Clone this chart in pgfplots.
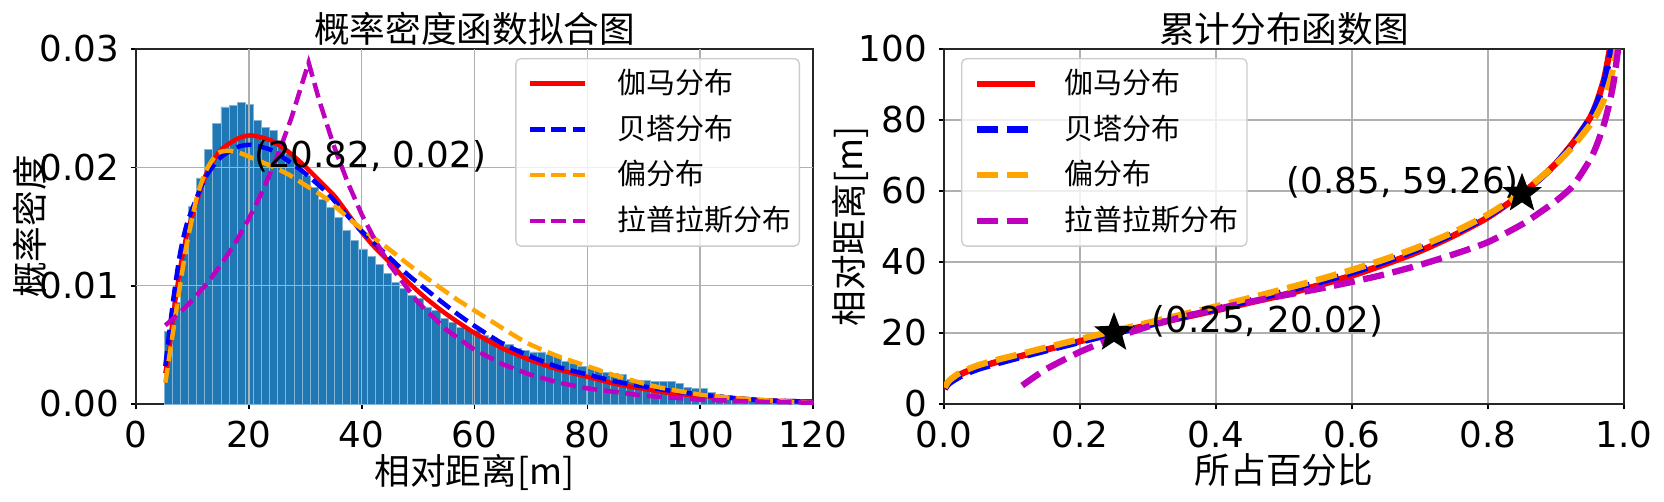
\documentclass[border=0pt]{standalone}
\usepackage{pgfplots}
\pgfplotsset{compat=1.18}
\usepackage{fontspec}
\setmainfont{DejaVu Sans}
\newfontfamily\cjk{Noto Sans CJK SC}
\definecolor{histblue}{HTML}{1F77B4}
\definecolor{mplorange}{HTML}{FFA500}
\definecolor{mplmag}{HTML}{BF00BF}
\definecolor{gridgray}{HTML}{B0B0B0}
\pgfdeclareplotmark{fstar}{%
  \pgfpathmoveto{\pgfpointpolar{90}{\pgfplotmarksize}}%
  \pgfpathlineto{\pgfpointpolar{126}{0.42\pgfplotmarksize}}%
  \pgfpathlineto{\pgfpointpolar{162}{\pgfplotmarksize}}%
  \pgfpathlineto{\pgfpointpolar{198}{0.42\pgfplotmarksize}}%
  \pgfpathlineto{\pgfpointpolar{234}{\pgfplotmarksize}}%
  \pgfpathlineto{\pgfpointpolar{270}{0.42\pgfplotmarksize}}%
  \pgfpathlineto{\pgfpointpolar{306}{\pgfplotmarksize}}%
  \pgfpathlineto{\pgfpointpolar{342}{0.42\pgfplotmarksize}}%
  \pgfpathlineto{\pgfpointpolar{18}{\pgfplotmarksize}}%
  \pgfpathlineto{\pgfpointpolar{54}{0.42\pgfplotmarksize}}%
  \pgfpathclose\pgfusepathqfillstroke}
\pgfplotsset{
  base/.style={
    scale only axis,
    height=106.5pt, anchor=south west,
    axis line style={line width=0.5pt, black!85},
    tick align=outside, major tick length=1.6pt,
    tick style={black, line width=0.5pt},
    xtick pos=left, ytick pos=left,
    tick label style={font=\fontsize{10.7}{12}\selectfont},
    xticklabel style={inner sep=1pt, yshift=-2.2pt},
    /pgf/number format/assume math mode=true,
    every axis title shift=0pt,
    title style={font=\cjk\fontsize{10.7}{12}\selectfont, at={(axis description cs:0.5,1)}, anchor=base, yshift=2pt, inner sep=0pt},
    label style={font=\cjk\fontsize{10.7}{12}\selectfont},
    xlabel style={at={(axis description cs:0.5,0)}, anchor=north, yshift=-14.8pt, inner sep=0pt},
    legend cell align=left,
    legend style={draw=black!20, rounded corners=1.5pt, fill=white, fill opacity=0.8, text opacity=1,
      font=\cjk\fontsize{8.7}{10}\selectfont, inner xsep=1pt, inner ysep=1.6pt, row sep=1.9pt,
      nodes={inner sep=1.5pt}},
  },
  leftline/.style={line width=1.35pt},
  rightline/.style={line width=1.9pt},
  ldash/.style={dash pattern=on 4.5pt off 2pt},
  rdash/.style={dash pattern=on 6.4pt off 2.6pt},
  gl/.style={gridgray, line width=0.45pt, forget plot},
}
\begin{document}
\begin{tikzpicture}
\path[use as bounding box] (0,0) rectangle (499.2pt,150.3pt);
\begin{axis}[base, at={(40.8pt,29.1pt)}, width=203.1pt,
  xmin=0, xmax=120, ymin=0, ymax=0.03,
  xtick={0,20,40,60,80,100,120}, ytick={0,0.01,0.02,0.03},
  scaled y ticks=false,
  yticklabel style={/pgf/number format/fixed, /pgf/number format/fixed zerofill, /pgf/number format/precision=2},
  title={概率密度函数拟合图}, xlabel={相对距离[m]}, ylabel={概率密度},
  ylabel style={at={(axis description cs:-0.1566,0.5)}, anchor=center, inner sep=0pt},
  legend style={at={(1,1)}, anchor=north east, xshift=-3.9pt, yshift=-2.7pt},
  legend image code/.code={\draw[#1] (0pt,0pt) -- (16.5pt,0pt); \path (-2.5pt,0pt) (24pt,0pt);},
]
\addplot[ybar interval, fill=histblue, draw=histblue!55!white, line width=0.25pt, forget plot] coordinates {
(5.0000,0.0061) (6.4375,0.0086) (7.8750,0.0127) (9.3125,0.0167) (10.7500,0.0191) (12.1875,0.0215)
(13.6250,0.0237) (15.0625,0.0251) (16.5000,0.0252) (17.9375,0.0255) (19.3750,0.0253) (20.8125,0.0240)
(22.2500,0.0234) (23.6875,0.0231) (25.1250,0.0221) (26.5625,0.0212) (28.0000,0.0203) (29.4375,0.0193)
(30.8750,0.0183) (32.3125,0.0173) (33.7500,0.0166) (35.1875,0.0158) (36.6250,0.0147) (38.0625,0.0138)
(39.5000,0.0131) (40.9375,0.0125) (42.3750,0.0118) (43.8125,0.0110) (45.2500,0.0103) (46.6875,0.0098)
(48.1250,0.0092) (49.5625,0.0089) (51.0000,0.0082) (52.4375,0.0079) (53.8750,0.0072) (55.3125,0.0069)
(56.7500,0.0065) (58.1875,0.0063) (59.6250,0.0062) (61.0625,0.0058) (62.5000,0.0056) (63.9375,0.0053)
(65.3750,0.0050) (66.8125,0.0047) (68.2500,0.0045) (69.6875,0.0044) (71.1250,0.0044) (72.5625,0.0042)
(74.0000,0.0040) (75.4375,0.0036) (76.8750,0.0034) (78.3125,0.0032) (79.7500,0.0031) (81.1875,0.0029)
(82.6250,0.0027) (84.0625,0.0026) (85.5000,0.0025) (86.9375,0.0021) (88.3750,0.0020) (89.8125,0.0020)
(91.2500,0.0019) (92.6875,0.0019) (94.1250,0.0019) (95.5625,0.0017) (97.0000,0.0014) (98.4375,0.0013)
(99.8750,0.0013) (101.3125,0.0010) (102.7500,0.0008) (104.1875,0.0007) (105.6250,0.0006) (107.0625,0.0005)
(108.5000,0.0005) (109.9375,0.0004) (111.3750,0.0004) (112.8125,0.0003) (114.2500,0.0003) (115.6875,0.0003)
(117.1250,0.0002) (118.5625,0.0002) (120.0000,0.0002)
};
\addplot[gl] coordinates {(20,0) (20,0.03)};
\addplot[gl] coordinates {(40,0) (40,0.03)};
\addplot[gl] coordinates {(60,0) (60,0.03)};
\addplot[gl] coordinates {(80,0) (80,0.03)};
\addplot[gl] coordinates {(100,0) (100,0.03)};
\addplot[gl] coordinates {(0,0.01) (120,0.01)};
\addplot[gl] coordinates {(0,0.02) (120,0.02)};
\addplot[leftline, red, smooth, tension=0.4] coordinates {
(5.2,0.0026) (6.0,0.0050) (6.6,0.0075) (7.8,0.0114) (9.0,0.0143) (10.8,0.0172) (12.5,0.0195)
(14.9,0.0214) (17.9,0.0224) (20.3,0.0227) (23.8,0.0223) (26.8,0.0214) (29.7,0.0202) (33.3,0.0185)
(35.5,0.0174) (39.2,0.0150) (42.0,0.0134) (45.1,0.0119) (48.0,0.0104) (51.5,0.0089) (55.0,0.0076)
(60.0,0.0060) (65.0,0.0047) (70.0,0.0037) (75.0,0.0029) (80.0,0.0023) (85.0,0.0017) (91.0,0.0012)
(95.0,0.0009) (100.0,0.0007) (106.0,0.0005) (112.0,0.0003) (120.0,0.0002)
};
\addlegendentry{伽马分布}
\addplot[leftline, blue, ldash, smooth, tension=0.4] coordinates {
(5.2,0.0032) (6.6,0.0088) (7.8,0.0127) (9.0,0.0152) (10.8,0.0175) (12.5,0.0193) (14.9,0.0208)
(17.9,0.0217) (20.3,0.0219) (23.8,0.0215) (26.8,0.0206) (29.7,0.0196) (33.3,0.0181) (35.5,0.0170)
(39.2,0.0150) (42.0,0.0137) (45.1,0.0123) (48.0,0.0110) (51.1,0.0098) (54.0,0.0087) (57.0,0.0076)
(60.0,0.0066) (65.0,0.0051) (70.0,0.0040) (75.0,0.0031) (80.0,0.0025) (85.0,0.0019) (91.0,0.0014)
(95.0,0.0011) (100.0,0.0008) (106.0,0.0005) (112.0,0.0003) (120.0,0.0002)
};
\addlegendentry{贝塔分布}
\addplot[leftline, mplorange, ldash, smooth, tension=0.4] coordinates {
(5.2,0.0018) (6.6,0.0062) (7.8,0.0100) (9.0,0.0135) (10.8,0.0175) (12.5,0.0198) (14.5,0.0212)
(16.5,0.0214) (18.5,0.0212) (21.0,0.0207) (24.0,0.0201) (27.0,0.0194) (30.0,0.0185) (33.3,0.0175)
(36.0,0.0164) (39.2,0.0151) (42.0,0.0141) (45.1,0.0130) (48.0,0.0119) (51.1,0.0108) (54.0,0.0098)
(57.0,0.0088) (60.0,0.0079) (63.0,0.0070) (67.0,0.0058) (70.0,0.0050) (75.0,0.0040) (80.0,0.0032)
(85.0,0.0024) (91.0,0.0016) (95.0,0.0012) (100.0,0.0008) (106.0,0.0005) (112.0,0.0003) (120.0,0.0001)
};
\addlegendentry{偏分布}
\addplot[leftline, mplmag, ldash] coordinates {
(5.2,0.00665) (7.5,0.00759) (10,0.00879) (12.5,0.01014) (15,0.01173) (17.5,0.01353) (20,0.01565)
(22.5,0.01806) (25,0.02088) (27.5,0.02411) (30.6,0.02885) (32.5,0.02562) (35,0.02191) (37.5,0.01875)
(40,0.01603) (42.5,0.01372) (45,0.01173) (50,0.00858) (55,0.00628) (60,0.00459) (65,0.00336)
(70,0.00246) (75,0.00180) (80,0.00132) (90,0.000704) (100,0.000377) (110,0.000202) (120,0.000108)
};
\addlegendentry{拉普拉斯分布}
\node[anchor=base west, inner sep=0pt, font=\fontsize{10.7}{12}\selectfont] at (axis cs:20.82,0.02) {(20.82, 0.02)};
\end{axis}
\begin{axis}[base, at={(283.2pt,29.1pt)}, width=204pt,
  xmin=0, xmax=1, ymin=0, ymax=100,
  grid=major, grid style={gridgray, line width=0.45pt},
  xtick={0,0.2,0.4,0.6,0.8,1}, ytick={0,20,40,60,80,100},
  xticklabel style={/pgf/number format/fixed, /pgf/number format/fixed zerofill, /pgf/number format/precision=1},
  title={累计分布函数图}, xlabel={所占百分比}, ylabel={相对距离[m]},
  ylabel style={at={(axis description cs:-0.1375,0.5)}, anchor=center, inner sep=0pt},
  legend style={at={(0,1)}, anchor=north west, xshift=5.1pt, yshift=-2.7pt},
  legend image code/.code={\draw[#1] (0pt,0pt) -- (17.5pt,0pt); \path (-2.5pt,0pt) (24pt,0pt);},
]
\addplot[rightline, red, smooth, tension=0.4] coordinates {
(0.001,4.2) (0.005,5.6) (0.01,6.6) (0.02,7.9) (0.03,8.9) (0.05,10.3) (0.075,11.7) (0.1,12.9)
(0.15,15.3) (0.2,17.7) (0.25,20.0) (0.3,22.2) (0.35,24.3) (0.4,26.4) (0.45,28.6) (0.5,30.8)
(0.55,33.4) (0.6,36.2) (0.65,39.5) (0.7,43.1) (0.75,47.5) (0.8,52.6) (0.85,59.3) (0.875,63.3)
(0.9,67.8) (0.925,73.6) (0.95,80.6) (0.96,85.0) (0.97,91.0) (0.975,95.5) (0.98,101.0) (0.985,108.0)
};
\addlegendentry{伽马分布}
\addplot[rightline, blue, rdash, smooth, tension=0.4] coordinates {
(0.001,4.4) (0.005,5.4) (0.01,6.2) (0.02,7.4) (0.03,8.4) (0.05,9.9) (0.075,11.3) (0.1,12.6)
(0.15,15.1) (0.2,17.5) (0.25,19.9) (0.3,22.2) (0.35,24.5) (0.4,26.8) (0.45,29.1) (0.5,31.6)
(0.55,34.2) (0.6,37.0) (0.65,40.2) (0.7,43.8) (0.75,48.0) (0.8,53.0) (0.85,59.4) (0.875,63.2)
(0.9,67.7) (0.925,73.2) (0.95,80.5) (0.96,84.5) (0.97,90.0) (0.975,94.0) (0.98,99.0) (0.985,106.0)
};
\addlegendentry{贝塔分布}
\addplot[rightline, mplorange, rdash, smooth, tension=0.4] coordinates {
(0.001,4.6) (0.005,6.0) (0.01,7.0) (0.02,8.4) (0.03,9.4) (0.05,10.9) (0.075,12.3) (0.1,13.5)
(0.15,15.9) (0.2,18.3) (0.25,20.6) (0.3,22.9) (0.35,25.2) (0.4,27.5) (0.45,29.9) (0.5,32.4)
(0.55,35.0) (0.6,37.8) (0.65,40.9) (0.7,44.4) (0.75,48.5) (0.8,53.4) (0.85,59.6) (0.875,63.4)
(0.9,67.6) (0.925,72.6) (0.95,78.6) (0.96,81.6) (0.97,85.5) (0.975,88.3) (0.98,91.5) (0.985,95.5) (0.99,101.0)
};
\addlegendentry{偏分布}
\addplot[rightline, mplmag, rdash, smooth, tension=0.4] coordinates {
(0.115,5.2) (0.15,9.8) (0.2,14.7) (0.25,18.6) (0.3,21.8) (0.35,24.5) (0.4,26.7) (0.45,28.8)
(0.5,30.6) (0.55,32.4) (0.6,34.4) (0.65,36.6) (0.7,39.2) (0.75,42.2) (0.8,45.6) (0.85,50.6)
(0.875,53.8) (0.9,57.2) (0.925,61.5) (0.95,68.8) (0.96,73.0) (0.97,78.5) (0.975,82.0) (0.98,86.0)
(0.985,91.0) (0.99,98.0) (0.993,103.0)
};
\addlegendentry{拉普拉斯分布}
\addplot[only marks, mark=fstar, mark size=5.4pt, fill=black, draw=black, line width=0.6pt, forget plot] coordinates {(0.25,20.02) (0.85,59.26)};
\node[anchor=base west, inner sep=0pt, font=\fontsize{10.7}{12}\selectfont] at (axis cs:0.304,20.02) {(0.25, 20.02)};
\node[anchor=base west, inner sep=0pt, font=\fontsize{10.7}{12}\selectfont] at (axis cs:0.503,59.26) {(0.85, 59.26)};
\end{axis}
\end{tikzpicture}
\end{document}
